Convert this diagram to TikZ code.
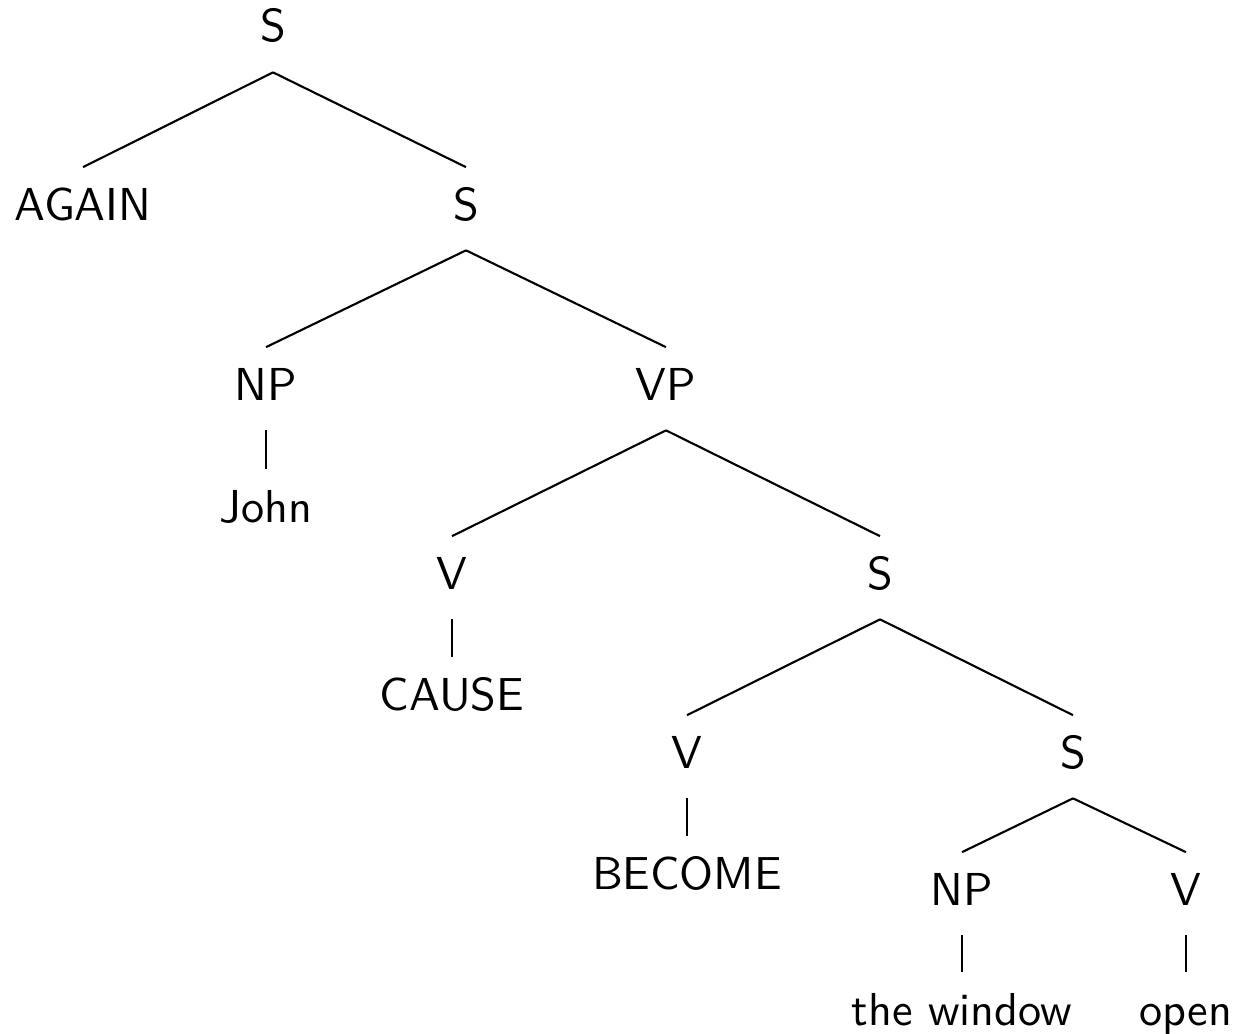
\documentclass[tikz,border=0pt]{standalone}
\begin{document}
\newcommand\tlab[1]{\scalebox{2.63}{#1}}
\begin{tikzpicture}[x=0.02cm,y=-0.02cm,
  lab/.style={font=\sffamily\fontsize{10}{12}\selectfont, anchor=base, inner sep=0pt, text height=0.61cm, text depth=0pt},
  br/.style={line width=1.2pt}]
\useasboundingbox (0,0) rectangle (1238,1034);
\newcommand\treeedge[2]{\draw[br] ([yshift=-0.6cm]#1.south) -- ([yshift=0.44cm]#2.north);}
\node[lab] (s0) at (273,42) {\tlab{S}};
\node[lab] (again) at (83,220) {\tlab{AGAIN}};
\node[lab] (s1) at (466,220) {\tlab{S}};
\node[lab] (np1) at (266,400) {\tlab{NP}};
\node[lab] (vp) at (666,400) {\tlab{VP}};
\node[lab] (john) at (266,522) {\tlab{John}};
\node[lab] (v1) at (452,589) {\tlab{V}};
\node[lab] (s2) at (880,589) {\tlab{S}};
\node[lab] (cause) at (452,710) {\tlab{CAUSE}};
\node[lab] (v2) at (687,768) {\tlab{V}};
\node[lab] (s3) at (1073,768) {\tlab{S}};
\node[lab] (become) at (687,889) {\tlab{BECOME}};
\node[lab] (np2) at (962,905) {\tlab{NP}};
\node[lab] (v3) at (1186,905) {\tlab{V}};
\node[lab] (win) at (962,1025) {\tlab{the window}};
\node[lab] (open) at (1186,1025) {\tlab{open}};
\treeedge{s0}{again}
\treeedge{s0}{s1}
\treeedge{s1}{np1}
\treeedge{s1}{vp}
\treeedge{np1}{john}
\treeedge{vp}{v1}
\treeedge{vp}{s2}
\treeedge{v1}{cause}
\treeedge{s2}{v2}
\treeedge{s2}{s3}
\treeedge{v2}{become}
\treeedge{s3}{np2}
\treeedge{s3}{v3}
\treeedge{np2}{win}
\treeedge{v3}{open}
\end{tikzpicture}
\end{document}
